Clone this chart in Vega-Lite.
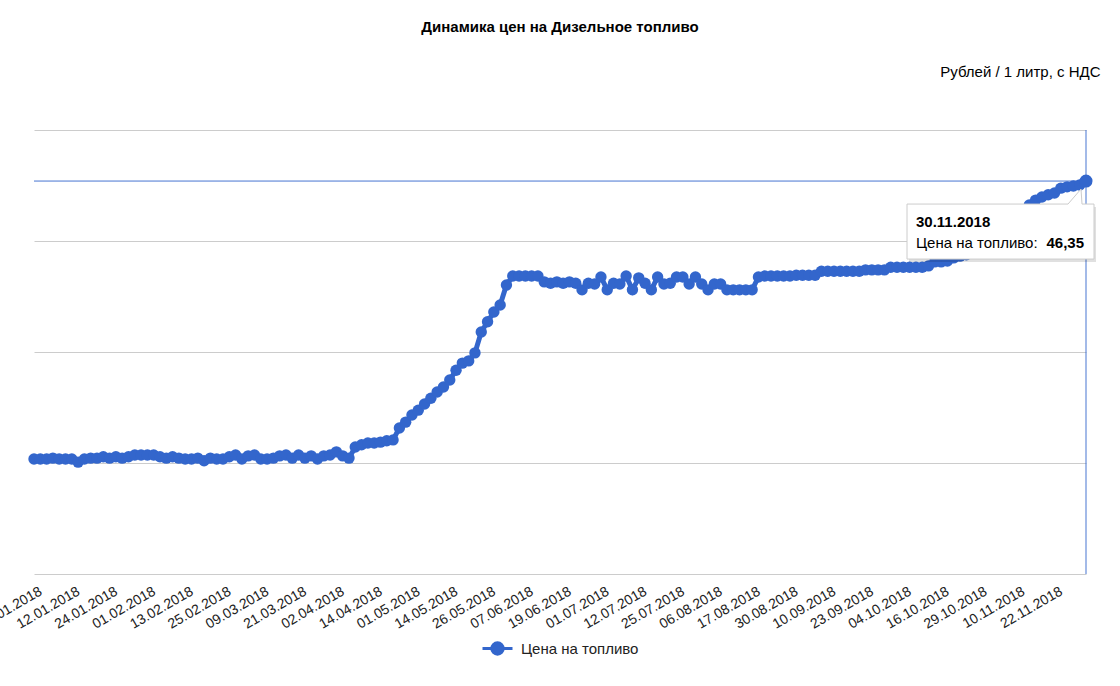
{
  "$schema": "https://vega.github.io/schema/vega-lite/v6.json",
  "autosize": {"type": "none"},
  "width": 1052,
  "height": 444,
  "padding": {"left": 34, "top": 130, "right": 34, "bottom": 112},
  "background": "#ffffff",
  "title": {"text": "Динамика цен на Дизельное топливо", "anchor": "middle", "font": "Liberation Sans", "fontSize": 15, "fontWeight": "bold", "color": "#000000", "offset": 29},
  "config": {
    "view": {"stroke": null},
    "font": "Liberation Sans",
    "locale": {"number": {"decimal": ",", "thousands": " ", "grouping": [3], "currency": ["", " руб."]}}
  },
  "data": {"values": [
    {"date":"01.01.2018","price":40.09},{"date":"03.01.2018","price":40.09},{"date":"05.01.2018","price":40.09},{"date":"07.01.2018","price":40.11},{"date":"08.01.2018","price":40.09},{"date":"10.01.2018","price":40.09},
    {"date":"12.01.2018","price":40.09},{"date":"14.01.2018","price":40.02},{"date":"16.01.2018","price":40.09},{"date":"18.01.2018","price":40.11},{"date":"20.01.2018","price":40.11},{"date":"22.01.2018","price":40.14},
    {"date":"24.01.2018","price":40.11},{"date":"25.01.2018","price":40.14},{"date":"27.01.2018","price":40.11},{"date":"28.01.2018","price":40.14},{"date":"29.01.2018","price":40.18},{"date":"31.01.2018","price":40.18},
    {"date":"01.02.2018","price":40.18},{"date":"03.02.2018","price":40.18},{"date":"05.02.2018","price":40.14},{"date":"07.02.2018","price":40.11},{"date":"09.02.2018","price":40.14},{"date":"11.02.2018","price":40.11},
    {"date":"13.02.2018","price":40.09},{"date":"15.02.2018","price":40.09},{"date":"17.02.2018","price":40.11},{"date":"19.02.2018","price":40.05},{"date":"21.02.2018","price":40.11},{"date":"23.02.2018","price":40.09},
    {"date":"25.02.2018","price":40.09},{"date":"27.02.2018","price":40.14},{"date":"01.03.2018","price":40.18},{"date":"03.03.2018","price":40.09},{"date":"05.03.2018","price":40.16},{"date":"07.03.2018","price":40.18},
    {"date":"09.03.2018","price":40.09},{"date":"11.03.2018","price":40.09},{"date":"13.03.2018","price":40.11},{"date":"15.03.2018","price":40.16},{"date":"17.03.2018","price":40.18},{"date":"19.03.2018","price":40.11},
    {"date":"21.03.2018","price":40.18},{"date":"23.03.2018","price":40.11},{"date":"25.03.2018","price":40.16},{"date":"27.03.2018","price":40.09},{"date":"29.03.2018","price":40.16},{"date":"31.03.2018","price":40.18},
    {"date":"02.04.2018","price":40.25},{"date":"04.04.2018","price":40.16},{"date":"06.04.2018","price":40.11},{"date":"08.04.2018","price":40.36},{"date":"10.04.2018","price":40.41},{"date":"12.04.2018","price":40.45},
    {"date":"14.04.2018","price":40.45},{"date":"17.04.2018","price":40.47},{"date":"20.04.2018","price":40.50},{"date":"22.04.2018","price":40.52},{"date":"25.04.2018","price":40.79},{"date":"28.04.2018","price":40.92},
    {"date":"01.05.2018","price":41.08},{"date":"03.05.2018","price":41.19},{"date":"05.05.2018","price":41.33},{"date":"07.05.2018","price":41.46},{"date":"10.05.2018","price":41.60},{"date":"12.05.2018","price":41.71},
    {"date":"14.05.2018","price":41.87},{"date":"16.05.2018","price":42.09},{"date":"18.05.2018","price":42.25},{"date":"20.05.2018","price":42.30},{"date":"22.05.2018","price":42.48},{"date":"24.05.2018","price":42.95},
    {"date":"26.05.2018","price":43.18},{"date":"28.05.2018","price":43.40},{"date":"30.05.2018","price":43.56},{"date":"01.06.2018","price":44.01},{"date":"03.06.2018","price":44.21},{"date":"05.06.2018","price":44.21},
    {"date":"07.06.2018","price":44.21},{"date":"09.06.2018","price":44.21},{"date":"11.06.2018","price":44.21},{"date":"13.06.2018","price":44.08},{"date":"15.06.2018","price":44.05},{"date":"17.06.2018","price":44.08},
    {"date":"19.06.2018","price":44.05},{"date":"21.06.2018","price":44.08},{"date":"23.06.2018","price":44.05},{"date":"25.06.2018","price":43.90},{"date":"27.06.2018","price":44.05},{"date":"29.06.2018","price":44.03},
    {"date":"01.07.2018","price":44.19},{"date":"03.07.2018","price":43.90},{"date":"05.07.2018","price":44.05},{"date":"07.07.2018","price":44.03},{"date":"08.07.2018","price":44.21},{"date":"10.07.2018","price":43.90},
    {"date":"12.07.2018","price":44.17},{"date":"14.07.2018","price":44.05},{"date":"16.07.2018","price":43.90},{"date":"18.07.2018","price":44.19},{"date":"21.07.2018","price":44.03},{"date":"23.07.2018","price":44.05},
    {"date":"25.07.2018","price":44.19},{"date":"27.07.2018","price":44.19},{"date":"29.07.2018","price":44.03},{"date":"31.07.2018","price":44.19},{"date":"02.08.2018","price":44.03},{"date":"04.08.2018","price":43.90},
    {"date":"06.08.2018","price":44.03},{"date":"08.08.2018","price":44.03},{"date":"10.08.2018","price":43.90},{"date":"12.08.2018","price":43.90},{"date":"13.08.2018","price":43.90},{"date":"15.08.2018","price":43.90},
    {"date":"17.08.2018","price":43.90},{"date":"19.08.2018","price":44.19},{"date":"21.08.2018","price":44.21},{"date":"23.08.2018","price":44.21},{"date":"26.08.2018","price":44.21},{"date":"28.08.2018","price":44.21},
    {"date":"30.08.2018","price":44.21},{"date":"01.09.2018","price":44.23},{"date":"03.09.2018","price":44.23},{"date":"05.09.2018","price":44.23},{"date":"06.09.2018","price":44.23},{"date":"08.09.2018","price":44.32},
    {"date":"10.09.2018","price":44.32},{"date":"12.09.2018","price":44.32},{"date":"14.09.2018","price":44.32},{"date":"16.09.2018","price":44.32},{"date":"19.09.2018","price":44.32},{"date":"21.09.2018","price":44.32},
    {"date":"23.09.2018","price":44.35},{"date":"25.09.2018","price":44.35},{"date":"27.09.2018","price":44.35},{"date":"29.09.2018","price":44.35},{"date":"30.09.2018","price":44.41},{"date":"02.10.2018","price":44.41},
    {"date":"04.10.2018","price":44.41},{"date":"06.10.2018","price":44.41},{"date":"08.10.2018","price":44.41},{"date":"10.10.2018","price":44.41},{"date":"12.10.2018","price":44.44},{"date":"14.10.2018","price":44.53},
    {"date":"16.10.2018","price":44.53},{"date":"18.10.2018","price":44.55},{"date":"20.10.2018","price":44.62},{"date":"22.10.2018","price":44.66},{"date":"25.10.2018","price":44.69},{"date":"27.10.2018","price":44.73},
    {"date":"29.10.2018","price":44.75},{"date":"31.10.2018","price":44.80},{"date":"02.11.2018","price":44.89},{"date":"04.11.2018","price":45.02},{"date":"06.11.2018","price":45.11},{"date":"08.11.2018","price":45.29},
    {"date":"10.11.2018","price":45.47},{"date":"12.11.2018","price":45.65},{"date":"14.11.2018","price":45.81},{"date":"16.11.2018","price":45.92},{"date":"18.11.2018","price":45.99},{"date":"20.11.2018","price":46.04},
    {"date":"22.11.2018","price":46.08},{"date":"24.11.2018","price":46.19},{"date":"26.11.2018","price":46.22},{"date":"27.11.2018","price":46.24},{"date":"28.11.2018","price":46.26},{"date":"30.11.2018","price":46.35}
  ]},
  "encoding": {
    "x": {
      "field": "date", "type": "ordinal", "sort": null,
      "scale": {"type": "point", "padding": 0},
      "axis": {
        "values": ["01.01.2018","12.01.2018","24.01.2018","01.02.2018","13.02.2018","25.02.2018","09.03.2018","21.03.2018","02.04.2018","14.04.2018","01.05.2018","14.05.2018","26.05.2018","07.06.2018","19.06.2018","01.07.2018","12.07.2018","25.07.2018","06.08.2018","17.08.2018","30.08.2018","10.09.2018","23.09.2018","04.10.2018","16.10.2018","29.10.2018","10.11.2018","22.11.2018"],
        "labelAngle": -30, "labelAlign": "right", "labelBaseline": "top",
        "labelFont": "Liberation Sans", "labelFontSize": 14, "labelColor": "#222222",
        "labelPadding": 10, "labelOffset": 3, "labelOverlap": false, "labelBound": false, "labelFlush": false,
        "ticks": false, "domain": false, "grid": false, "title": null
      }
    },
    "y": {
      "field": "price", "type": "quantitative",
      "scale": {"domain": [37.5, 47.5], "nice": false, "zero": false},
      "axis": {
        "orient": "right", "values": [37.5, 40, 42.5, 45, 47.5],
        "grid": true, "gridColor": "#cccccc", "gridWidth": 1,
        "labels": false, "ticks": false, "domain": false,
        "title": "Рублей / 1 литр, с НДС", "titleAngle": 0, "titleAlign": "right", "titleBaseline": "alphabetic",
        "titleX": 14, "titleY": -54, "titleFont": "Liberation Sans", "titleFontSize": 15, "titleFontWeight": "normal", "titleColor": "#000000"
      }
    }
  },
  "layer": [
    {
      "mark": {"type": "line", "strokeWidth": 5},
      "encoding": {
        "color": {
          "datum": "Цена на топливо", "type": "nominal",
          "scale": {"range": ["#3366cc"]},
          "legend": {
            "title": null, "orient": "none", "legendX": 447, "legendY": 502,
            "symbolType": "M-1,0L1,0M-0.38,0A0.38,0.38,0,1,1,0.38,0A0.38,0.38,0,1,1,-0.38,0Z",
            "symbolSize": 900, "symbolStrokeWidth": 3, "symbolFillColor": "#3366cc", "symbolStrokeColor": "#3366cc",
            "labelFont": "Liberation Sans", "labelFontSize": 15, "labelColor": "#222222", "labelOffset": 7, "padding": 0,
            "encode": {"symbols": {"update": {"fill": {"value": "#3366cc"}, "stroke": {"value": "#3366cc"}, "strokeWidth": {"value": 3}}}}
          }
        }
      }
    },
    {
      "mark": {"type": "circle", "size": 130, "color": "#3366cc", "opacity": 1}
    },
    {
      "transform": [{"filter": "datum.date == '30.11.2018'"}],
      "mark": {"type": "rule", "color": "#3366cc", "strokeWidth": 1, "opacity": 0.9},
      "encoding": {"x": null}
    },
    {
      "transform": [{"filter": "datum.date == '30.11.2018'"}],
      "mark": {"type": "rule", "color": "#3366cc", "strokeWidth": 1, "opacity": 0.9},
      "encoding": {"y": null}
    },
    {
      "transform": [{"filter": "datum.date == '30.11.2018'"}],
      "mark": {"type": "circle", "size": 170, "color": "#3366cc", "opacity": 1}
    },
    {
      "transform": [{"filter": "datum.date == '30.11.2018'"}],
      "mark": {"type": "point", "shape": "M-177,26L10,26L10,81L-177,81Z", "size": 4, "filled": true, "fill": "#000000", "opacity": 0.12, "strokeWidth": 0}
    },
    {
      "transform": [{"filter": "datum.date == '30.11.2018'"}],
      "mark": {"type": "point", "shape": "M-179,23L-18,23L-5,8L-4,23L8,23L8,78L-179,78Z", "size": 4, "filled": true, "fill": "#ffffff", "stroke": "#cccccc", "strokeWidth": 1, "opacity": 1}
    },
    {
      "transform": [{"filter": "datum.date == '30.11.2018'"}],
      "mark": {"type": "text", "align": "left", "baseline": "alphabetic", "dx": -170, "dy": 46, "font": "Liberation Sans", "fontSize": 15, "fontWeight": "bold", "color": "#000000"},
      "encoding": {"text": {"field": "date"}}
    },
    {
      "transform": [{"filter": "datum.date == '30.11.2018'"}],
      "mark": {"type": "text", "align": "left", "baseline": "alphabetic", "dx": -170, "dy": 67, "font": "Liberation Sans", "fontSize": 15, "fontWeight": "normal", "color": "#000000"},
      "encoding": {"text": {"datum": "Цена на топливо:"}}
    },
    {
      "transform": [{"filter": "datum.date == '30.11.2018'"}],
      "mark": {"type": "text", "align": "right", "baseline": "alphabetic", "dx": -2, "dy": 67, "font": "Liberation Sans", "fontSize": 15, "fontWeight": "bold", "color": "#000000"},
      "encoding": {"text": {"field": "price", "type": "quantitative", "format": ".2f"}}
    }
  ]
}
